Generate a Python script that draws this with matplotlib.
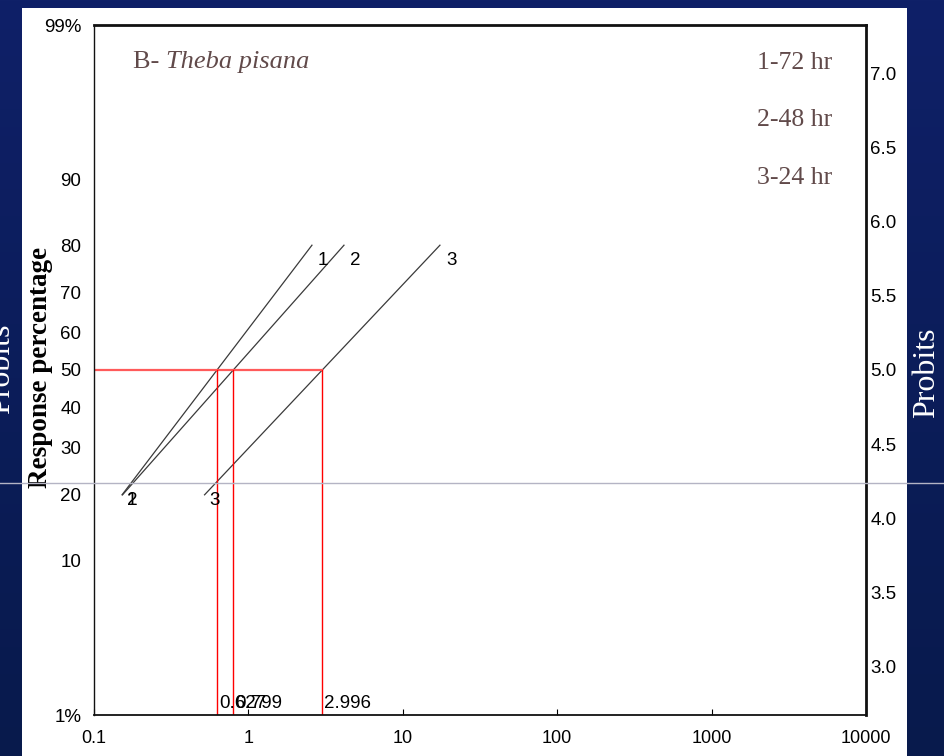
import matplotlib
matplotlib.use("Agg")
import matplotlib.pyplot as plt
import numpy as np
from statistics import NormalDist
from matplotlib.lines import Line2D
from matplotlib.patches import Rectangle
from matplotlib.colors import LinearSegmentedColormap
from matplotlib.ticker import NullLocator

plt.rcParams["font.family"] = ["Liberation Sans", "DejaVu Sans"]

# Data
pct_ticks = [1, 10, 20, 30, 40, 50, 60, 70, 80, 90, 99]
pct_labels = ["1%", "10", "20", "30", "40", "50", "60", "70", "80", "90", "99%"]
probit_ticks = [3.0, 3.5, 4.0, 4.5, 5.0, 5.5, 6.0, 6.5, 7.0]
x_ticks = [0.1, 1, 10, 100, 1000, 10000]
x_tick_labels = ["0.1", "1", "10", "100", "1000", "10000"]

line_ids = ["1", "2", "3"]
legend_labels = ["1-72 hr", "2-48 hr", "3-24 hr"]
lc50 = [0.627, 0.799, 2.996]
x_at_20 = [0.152, 0.153, 0.52]   # concentration at 20% response
x_at_80 = [2.58, 4.16, 17.4]     # concentration at 80% response

txt_color = "#614a4a"
serif = "Liberation Serif"

nd = NormalDist()


def probit(pct):
    return 5 + nd.inv_cdf(pct / 100)


W, H = 945, 756
fig = plt.figure(figsize=(W / 100, H / 100), dpi=100)

# slide background
bg = fig.add_axes([0, 0, 1, 1], zorder=-3)
cmap = LinearSegmentedColormap.from_list("navy", ["#0f2068", "#081a4c"])
bg.imshow(np.linspace(0, 1, 256)[:, None], aspect="auto", cmap=cmap,
          extent=[0, 1, 0, 1], origin="upper")
bg.axis("off")

fig.text(1.5 / W, 1 - 369 / H, "Probits", rotation=90, color="white",
         fontsize=23, family=serif, ha="center", va="center")
fig.text(927 / W, 1 - 373 / H, "Probits", rotation=90, color="white",
         fontsize=23, family=serif, ha="center", va="center")

# white picture panel
fig.add_artist(Rectangle((22 / W, 0), (907 - 22) / W, 1 - 8 / H,
                         transform=fig.transFigure, facecolor="white",
                         edgecolor="none", zorder=-2))

ax = fig.add_axes([94 / W, 1 - 715 / H, (866 - 94) / W, (715 - 25) / H], zorder=0)
ax.set_xscale("log")
ax.set_xlim(0.1, 10000)
ax.set_ylim(probit(1), probit(99))
ax.set_xticks(x_ticks)
ax.set_xticklabels(x_tick_labels)
ax.xaxis.set_minor_locator(NullLocator())
ax.tick_params(axis="x", direction="in", length=4, pad=11, labelsize=13)
ax.set_yticks([probit(p) for p in pct_ticks])
ax.set_yticklabels(pct_labels)
ax.tick_params(axis="y", length=0, pad=9, labelsize=13.5)

ax2 = ax.twinx()
ax2.set_ylim(ax.get_ylim())
ax2.set_yticks(probit_ticks)
ax2.set_yticklabels([f"{v:.1f}" for v in probit_ticks])
ax2.tick_params(axis="y", length=0, pad=3, labelsize=13.5)
for s in ax2.spines.values():
    s.set_visible(False)

ax.spines["left"].set_linewidth(1.0)
ax.spines["bottom"].set_linewidth(1.3)
ax.spines["top"].set_linewidth(2.0)
ax.spines["right"].set_linewidth(2.0)
for s in ax.spines.values():
    s.set_color("#111111")

# probit regression lines
y20, y80 = probit(20), probit(80)
for i in range(len(line_ids)):
    ax.plot([x_at_20[i], x_at_80[i]], [y20, y80], color="#3a3a3a", lw=0.9)
    ax.annotate(line_ids[i], (x_at_80[i], y80), xytext=(8, -11),
                textcoords="offset points", ha="center", va="center", fontsize=13.5)
    ax.annotate(line_ids[i], (x_at_20[i], y20), xytext=(7, -4),
                textcoords="offset points", ha="center", va="center", fontsize=13.5)

# LC50 guides
y_low = ax.get_ylim()[0]
ax.plot([0.1, max(lc50)], [5, 5], color="#ff5a5a", lw=1.6)
for v in lc50:
    ax.plot([v, v], [y_low, 5], color="red", lw=1)
    ax.annotate(f"{v:.3f}", (v, y_low), xytext=(1.5, 2), textcoords="offset points",
                ha="left", va="bottom", fontsize=13.5)

# title and legend text
t = ax.text(0.0505, 0.946, "B- ", transform=ax.transAxes, family=serif,
            fontsize=19, color=txt_color, va="center", ha="left")
ax.annotate("Theba pisana", xy=(1, 0), xycoords=t, va="bottom", ha="left",
            family=serif, style="italic", fontsize=19, color=txt_color)
for lab, yy in zip(legend_labels, [0.945, 0.862, 0.778]):
    ax.text(0.956, yy, lab, transform=ax.transAxes, family=serif, fontsize=18.5,
            color=txt_color, ha="right", va="center")

fig.text(41 / W, 1 - 367 / H, "Response percentage", rotation=90, ha="center",
         va="center", family=serif, weight="bold", fontsize=19.5)

# slide divider line
fig.add_artist(Line2D([0, 1], [1 - 483 / H] * 2, transform=fig.transFigure,
                      color="#b4b4c4", lw=1, zorder=5))

fig.savefig("out.png", dpi=100)
